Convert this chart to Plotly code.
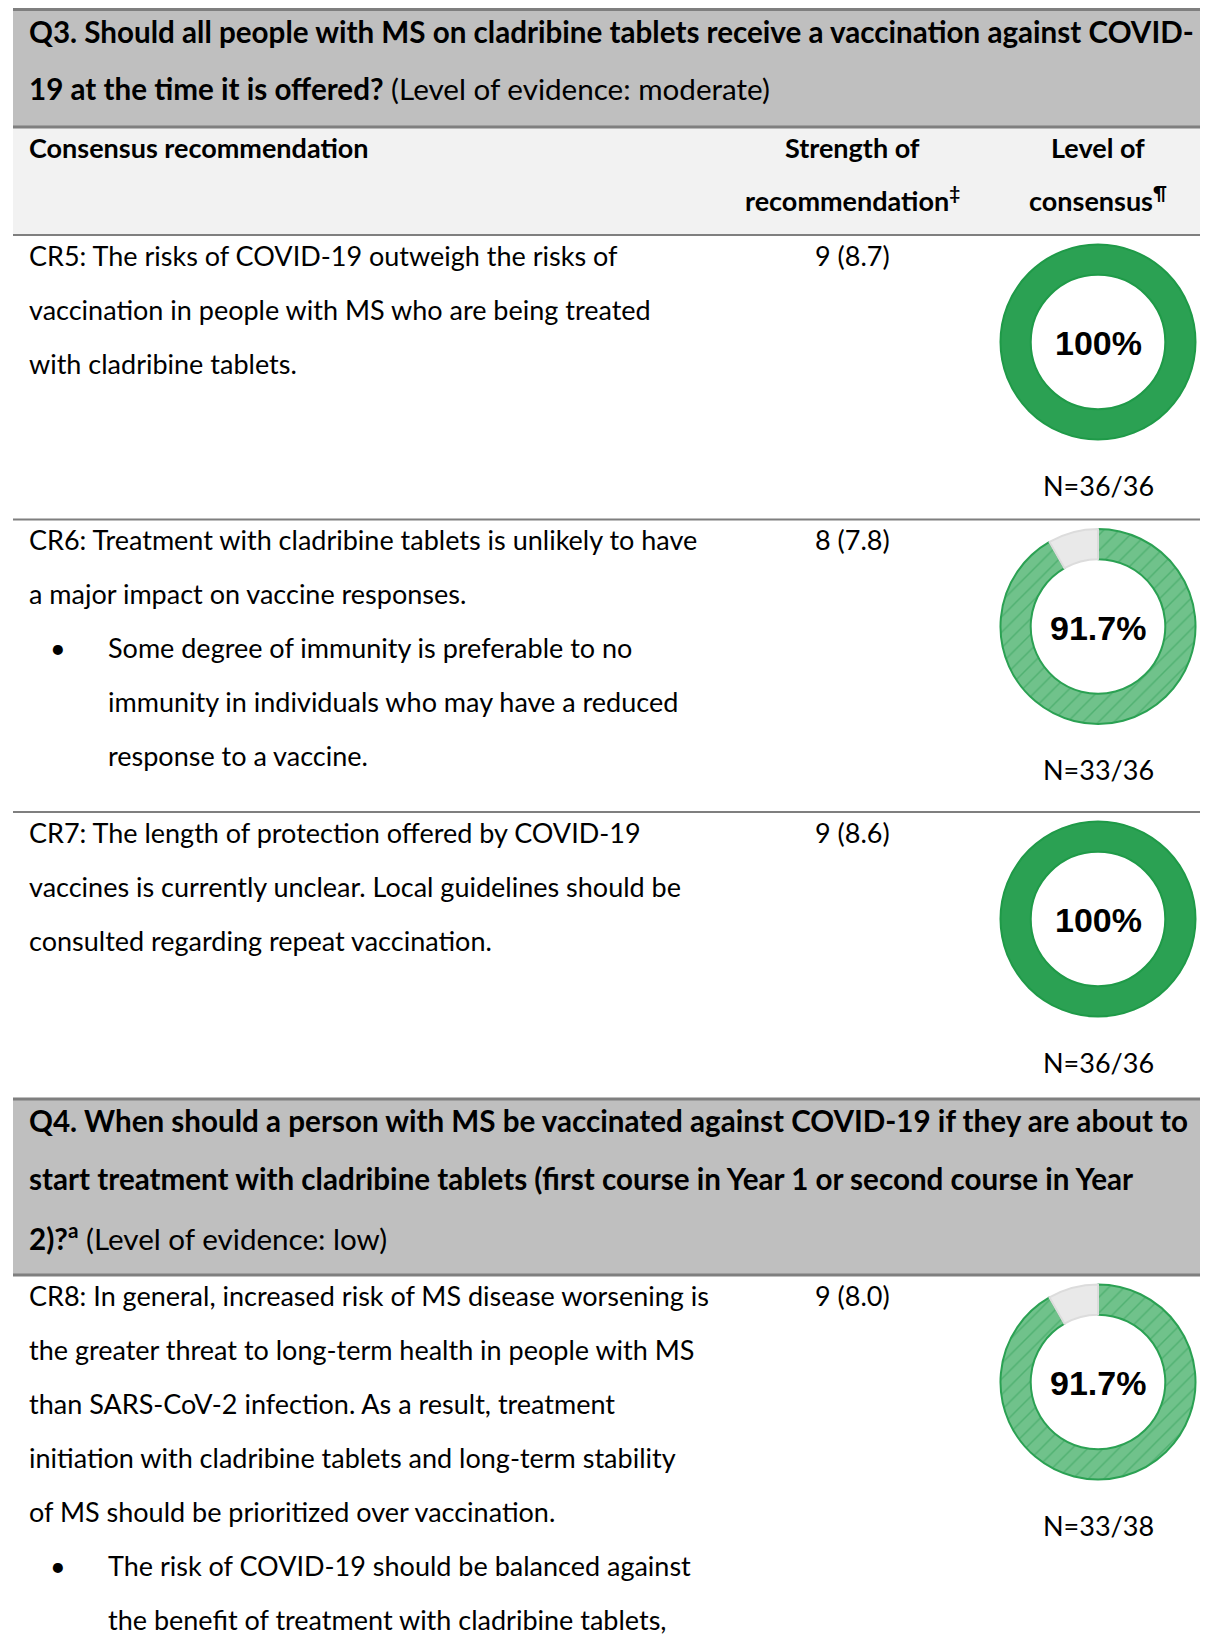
import plotly.graph_objects as go

# ---------------- data ----------------
q3_title = ["Q3. Should all people with MS on cladribine tablets receive a vaccination against COVID-",
            "19 at the time it is offered?"]
q3_evidence = "(Level of evidence: moderate)"
q4_title = ["Q4. When should a person with MS be vaccinated against COVID-19 if they are about to",
            "start treatment with cladribine tablets (first course in Year 1 or second course in Year",
            "2)?"]
q4_evidence = "(Level of evidence: low)"

col_headers = ["Consensus recommendation", "Strength of", "recommendation", "Level of", "consensus"]

cr_main = [
    ["CR5: The risks of COVID-19 outweigh the risks of",
     "vaccination in people with MS who are being treated",
     "with cladribine tablets."],
    ["CR6: Treatment with cladribine tablets is unlikely to have",
     "a major impact on vaccine responses."],
    ["CR7: The length of protection offered by COVID-19",
     "vaccines is currently unclear. Local guidelines should be",
     "consulted regarding repeat vaccination."],
    ["CR8: In general, increased risk of MS disease worsening is",
     "the greater threat to long-term health in people with MS",
     "than SARS-CoV-2 infection. As a result, treatment",
     "initiation with cladribine tablets and long-term stability",
     "of MS should be prioritized over vaccination."],
]
cr_bullets = [
    [],
    ["Some degree of immunity is preferable to no",
     "immunity in individuals who may have a reduced",
     "response to a vaccine."],
    [],
    ["The risk of COVID-19 should be balanced against",
     "the benefit of treatment with cladribine tablets,"],
]
strength_median = [9, 8, 9, 9]
strength_mean = [8.7, 7.8, 8.6, 8.0]
consensus_pct = [100, 91.7, 100, 91.7]
n_agree = [36, 33, 36, 33]
n_total = [36, 36, 36, 38]

# ---------------- layout constants (page pixel coordinates) ----------------
PAGE_W, PAGE_H = 1208, 1646
OFF = 8                       # html body margin
W, H = PAGE_W - OFF, PAGE_H - 2 * OFF
FONT = "Lato"
BODY = 27
HEAD = 29.6
LINE_H = 54
X_LEFT = 27
X_BULLET = 58
X_BTEXT = 106
X_STR = 852
X_DON = 1098
R_DON = 97.5
GRID = "#7f7f7f"

q3_box = (0, 127)
colhdr_box = (127, 235)
row_tops = [235, 519.5, 812, 1275]
row_bottoms = [519.5, 812, 1099, PAGE_H + 10]
q4_box = (1099, 1275)

fig = go.Figure()
ann = []
shapes = []

def rect(y0, y1, color):
    shapes.append(dict(type="rect", xref="x", yref="y", x0=13, x1=PAGE_W + 2, y0=y0, y1=y1,
                       fillcolor=color, line=dict(width=0), layer="below"))

def hline(y, width=2, color=GRID):
    shapes.append(dict(type="line", xref="x", yref="y", x0=13, x1=PAGE_W + 2, y0=y, y1=y,
                       line=dict(color=color, width=width)))

def text(x, y, s, size=BODY, anchor="left", family=FONT, color="#000"):
    ann.append(dict(x=x, y=y, xref="x", yref="y", text=s, showarrow=False,
                    xanchor=anchor, yanchor="middle",
                    font=dict(family=family, size=size, color=color)))

# header boxes
rect(*q3_box, "#bfbfbf")
rect(*colhdr_box, "#f2f2f2")
rect(*q4_box, "#bfbfbf")
hline(OFF + 1.5, 3)
hline(q3_box[1], 3)
hline(colhdr_box[1], 2)
hline(row_bottoms[0], 2)
hline(row_bottoms[1], 2)
hline(q4_box[0], 3)
hline(q4_box[1], 3)

# Q3 header
text(X_LEFT, 31, "<b>%s</b>" % q3_title[0], size=HEAD)
text(X_LEFT, 88, "<b>%s</b> %s" % (q3_title[1], q3_evidence), size=HEAD)
# column headers
text(X_LEFT, 147, "<b>%s</b>" % col_headers[0])
text(X_STR, 147, "<b>%s</b>" % col_headers[1], anchor="center")
text(X_STR, 199, "<b>%s<sup>‡</sup></b>" % col_headers[2], anchor="center")
text(X_DON, 147, "<b>%s</b>" % col_headers[3], anchor="center")
text(X_DON, 199, "<b>%s<sup>¶</sup></b>" % col_headers[4], anchor="center")
# Q4 header
text(X_LEFT, 1120, "<b>%s</b>" % q4_title[0], size=HEAD)
text(X_LEFT, 1178.5, "<b>%s</b>" % q4_title[1], size=HEAD)
text(X_LEFT, 1237, "<b>%s<sup>a</sup></b> %s" % (q4_title[2], q4_evidence), size=HEAD)

for i in range(len(cr_main)):
    top = row_tops[i]
    y = top + 20
    for line in cr_main[i]:
        text(X_LEFT, y, line)
        y += LINE_H
    for j, line in enumerate(cr_bullets[i]):
        if j == 0:
            text(X_BULLET, y, "•", anchor="center")
        text(X_BTEXT, y, line)
        y += LINE_H
    text(X_STR, top + 20, "%d (%.1f)" % (strength_median[i], strength_mean[i]), anchor="center")

    # donut
    cy = top + 107
    pct = consensus_pct[i]
    full = pct >= 100
    dom_x = [(X_DON - R_DON - OFF) / W, (X_DON + R_DON - OFF) / W]
    dom_y = [1 - (cy + R_DON - OFF) / H, 1 - (cy - R_DON - OFF) / H]
    if full:
        vals = [pct]
        labs = ["Agree"]
        marker = dict(colors=["#2ba153"], line=dict(color=["#1f9a48"], width=2))
    else:
        vals = [pct, 100 - pct]
        labs = ["Agree", "Other"]
        marker = dict(colors=["#70c28b", "#e9e9e9"],
                      line=dict(color=["#2ba153", "#dcdcdc"], width=2),
                      pattern=dict(shape=["/", ""], fgcolor="#2f9f57",
                                   size=11, solidity=0.13, fillmode="overlay"))
    fig.add_trace(go.Pie(values=vals, labels=labs,
                         hole=0.69, sort=False, direction="clockwise", rotation=0,
                         textinfo="none", hoverinfo="skip", showlegend=False,
                         marker=marker, domain=dict(x=dom_x, y=dom_y)))
    pct_txt = ("%d%%" % pct) if full else ("%.1f%%" % pct)
    text(X_DON, cy + 1, "<b>%s</b>" % pct_txt, size=34, anchor="center",
         family="Liberation Sans, Arial")
    text(X_DON, top + 250, "N=%d/%d" % (n_agree[i], n_total[i]), anchor="center")

fig.update_layout(
    width=W, height=H,
    margin=dict(l=0, r=0, t=0, b=0),
    paper_bgcolor="white", plot_bgcolor="white",
    xaxis=dict(range=[OFF, OFF + W], visible=False, fixedrange=True),
    yaxis=dict(range=[OFF + H, OFF], visible=False, fixedrange=True),
    annotations=ann, shapes=shapes,
)
fig.write_html("out.html")
